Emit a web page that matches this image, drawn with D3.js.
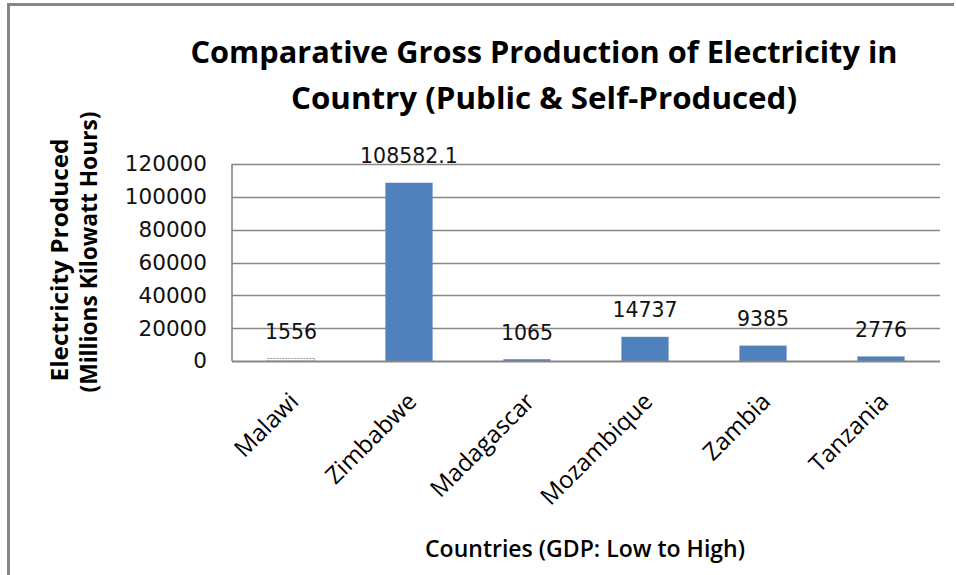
<!DOCTYPE html>
<html>
<head>
<meta charset="utf-8">
<script src="https://cdn.jsdelivr.net/npm/d3@7"></script>
<style>
  html, body { margin: 0; padding: 0; background: #fff; }
  svg { display: block; }
</style>
</head>
<body>
<svg id="chart" width="956" height="575"></svg>
<script>
const countries = ["Malawi", "Zimbabwe", "Madagascar", "Mozambique", "Zambia", "Tanzania"];
const production = [1556, 108582.1, 1065, 14737, 9385, 2776];
const valueLabels = ["1556", "108582.1", "1065", "14737", "9385", "2776"];
const yTicks = [0, 20000, 40000, 60000, 80000, 100000, 120000];
const titleLines = ["Comparative Gross Production of Electricity in", "Country (Public & Self-Produced)"];
const yTitleLines = ["Electricity Produced", "(Millions Kilowatt Hours)"];
const xTitle = "Countries (GDP: Low to High)";

const svg = d3.select("#chart");
const W = 956, H = 575;
const plot = { left: 232, right: 940, top: 164, bottom: 361 };
const grey = "#868686";

svg.append("rect").attr("width", W).attr("height", H).attr("fill", "#fff");

// outer border (only top and left visible in the reference)
svg.append("line").attr("x1", 8.5).attr("x2", 8.5).attr("y1", 3).attr("y2", H)
  .attr("stroke", grey).attr("stroke-width", 3);
svg.append("line").attr("x1", 7).attr("x2", 954).attr("y1", 4.5).attr("y2", 4.5)
  .attr("stroke", grey).attr("stroke-width", 3);

const x = d3.scaleBand().domain(countries).range([plot.left, plot.right])
  .paddingInner(0.6).paddingOuter(0.3);
const y = d3.scaleLinear().domain([0, 120000]).range([plot.bottom, plot.top]);

// gridlines
svg.append("g").selectAll("line").data(yTicks.filter(d => d > 0)).join("line")
  .attr("x1", plot.left).attr("x2", plot.right)
  .attr("y1", d => Math.round(y(d)) + 0.5).attr("y2", d => Math.round(y(d)) + 0.5)
  .attr("stroke", grey).attr("stroke-width", 1.4);

// bars
svg.append("g").selectAll("rect").data(countries).join("rect")
  .attr("x", d => x(d))
  .attr("width", x.bandwidth())
  .attr("y", (d, i) => y(production[i]))
  .attr("height", (d, i) => y(0) - y(production[i]))
  .attr("fill", d => d === "Malawi" ? "#fff" : "#4F81BD")
  .attr("stroke", d => d === "Malawi" ? "#9a9a9a" : "none")
  .attr("stroke-dasharray", d => d === "Malawi" ? "2,1" : null)
  .attr("stroke-width", 1);

// axes lines
svg.append("line").attr("x1", plot.left).attr("x2", plot.left)
  .attr("y1", plot.top).attr("y2", plot.bottom)
  .attr("stroke", grey).attr("stroke-width", 1.6);
svg.append("line").attr("x1", plot.left).attr("x2", plot.right)
  .attr("y1", plot.bottom + 0.5).attr("y2", plot.bottom + 0.5)
  .attr("stroke", grey).attr("stroke-width", 2.2);

// y tick labels
const yAxis = d3.axisLeft(y).tickValues(yTicks).tickSize(0).tickPadding(0).tickFormat(d3.format("d"));
const gy = svg.append("g").attr("transform", `translate(207,0)`).call(yAxis);
gy.select(".domain").remove();
gy.selectAll("text")
  .attr("font-family", "DejaVu Sans").attr("font-size", 20.5).attr("fill", "#111")
  .attr("dy", "0.34em").attr("x", 0)
  .attr("textLength", 82).attr("lengthAdjust", "spacingAndGlyphs")
  .each(function(d) { d3.select(this).attr("textLength", String(d).length * 13.7); });

// value labels
svg.append("g").selectAll("text").data(countries).join("text")
  .attr("x", d => x(d) + x.bandwidth() / 2)
  .attr("y", (d, i) => y(production[i]) - 19.5)
  .attr("text-anchor", "middle")
  .attr("font-family", "DejaVu Sans").attr("font-size", 20.5).attr("fill", "#111")
  .text((d, i) => valueLabels[i]);

// category labels
const xAxis = d3.axisBottom(x).tickSize(0).tickPadding(0);
const gx = svg.append("g").attr("transform", `translate(0,${plot.bottom})`).call(xAxis);
gx.select(".domain").remove();
gx.selectAll(".tick text")
  .attr("font-family", "Open Sans").attr("font-size", 24).attr("fill", "#000")
  .attr("text-anchor", "end")
  .attr("x", 0).attr("y", 0).attr("dy", 0)
  .attr("transform", "translate(9,42) rotate(-45)");

// title
svg.append("g").selectAll("text").data(titleLines).join("text")
  .attr("x", 544).attr("y", (d, i) => 63 + i * 46)
  .attr("text-anchor", "middle")
  .attr("font-family", "Open Sans").attr("font-weight", "bold").attr("font-size", 31)
  .attr("fill", "#000")
  .attr("textLength", (d, i) => i === 0 ? 707 : 506)
  .attr("lengthAdjust", "spacingAndGlyphs")
  .text(d => d);

// y title
svg.append("g").selectAll("text").data(yTitleLines).join("text")
  .attr("transform", (d, i) => `translate(${i === 0 ? 68 : 97},${i === 0 ? 260 : 252}) rotate(-90)`)
  .attr("text-anchor", "middle")
  .attr("font-family", "Open Sans").attr("font-weight", "bold").attr("font-size", 24)
  .attr("fill", "#000")
  .attr("textLength", (d, i) => i === 0 ? 243 : 281)
  .attr("lengthAdjust", "spacingAndGlyphs")
  .text(d => d);

// x title
svg.append("text")
  .attr("x", 585).attr("y", 557)
  .attr("text-anchor", "middle")
  .attr("font-family", "Open Sans").attr("font-weight", 600).attr("font-size", 23)
  .attr("fill", "#000")
  .attr("textLength", 320).attr("lengthAdjust", "spacingAndGlyphs")
  .text(xTitle);
</script>
</body>
</html>
